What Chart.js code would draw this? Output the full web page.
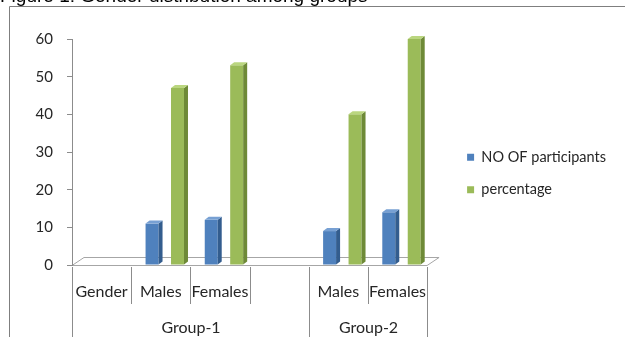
<!DOCTYPE html>
<html>
<head>
<meta charset="utf-8">
<script src="https://cdn.jsdelivr.net/npm/chart.js@4.4.0/dist/chart.umd.min.js"></script>
<style>
  html, body { margin: 0; padding: 0; background: #fff; }
  #wrap { position: relative; width: 625px; height: 337px; overflow: hidden; }
  #fig { position: absolute; left: 0; top: -14px; z-index: 2; font: 19px "Liberation Sans", Arial, sans-serif; line-height: 19px; color: #000; white-space: nowrap; }
  canvas { position: absolute; left: 0; top: 0; }
</style>
</head>
<body>
<div id="wrap">
  <div id="fig">Figure 1: Gender distribution among groups</div>
  <canvas id="genderChart" width="625" height="337"></canvas>
</div>
<script>
// Data
const categories = ['Gender', 'Males', 'Females', '', 'Males', 'Females'];
const groups = ['Group-1', 'Group-2'];
const groupSpans = [4, 2]; // how many categories sit under each group
const participants = [null, 11, 12, null, 9, 14];
const percentage = [null, 47, 53, null, 40, 60];

const LINE = '#8c8c8c';
const TEXT = '#262626';
const DX = 4, DY = 3; // bar depth

// horizontal shading like the Office 2007 bars
function shaded(light, mid, dark) {
  return ctx => {
    const bar = ctx.element;
    const chart = ctx.chart;
    if (!bar || !chart.chartArea) return mid;
    const {x, width} = bar.getProps(['x', 'width'], true);
    if (!isFinite(x) || !width) return mid;
    const g = chart.ctx.createLinearGradient(x - width / 2, 0, x + width / 2, 0);
    g.addColorStop(0, light);
    g.addColorStop(0.45, mid);
    g.addColorStop(1, dark);
    return g;
  };
}

// fake the Excel 3D look: frame, floor, bar sides and the two-level category axis
const excel3d = {
  id: 'excel3d',
  beforeDraw(chart) {
    const {ctx, chartArea: a} = chart;
    ctx.save();
    ctx.strokeStyle = '#7f7f7f';
    ctx.lineWidth = 1;
    ctx.beginPath();
    ctx.moveTo(chart.width, 6.5);
    ctx.lineTo(9.5, 6.5);
    ctx.lineTo(9.5, chart.height);
    ctx.stroke();

    ctx.strokeStyle = '#a6a6a6';
    ctx.fillStyle = '#fff';
    ctx.beginPath();
    ctx.moveTo(a.left, a.bottom + 0.5);
    ctx.lineTo(a.right, a.bottom + 0.5);
    ctx.lineTo(a.right + 12, a.bottom - 7.5);
    ctx.lineTo(a.left + 12, a.bottom - 7.5);
    ctx.closePath();
    ctx.fill();
    ctx.stroke();
    ctx.restore();
  },
  beforeDatasetsDraw(chart) {
    chart.ctx.save();
    chart.ctx.translate(DX, 0);
  },
  afterDatasetsDraw(chart) {
    const ctx = chart.ctx;
    chart.data.datasets.forEach((ds, i) => {
      chart.getDatasetMeta(i).data.forEach((bar, j) => {
        if (ds.data[j] == null) return;
        const {x, y, base, width} = bar.getProps(['x', 'y', 'base', 'width'], true);
        const l = x - width / 2, r = x + width / 2;
        ctx.fillStyle = ds.sideColor;
        ctx.beginPath();
        ctx.moveTo(r, y);
        ctx.lineTo(r + DX, y - DY);
        ctx.lineTo(r + DX, base - DY);
        ctx.lineTo(r, base);
        ctx.closePath();
        ctx.fill();
        ctx.fillStyle = ds.topColor;
        ctx.beginPath();
        ctx.moveTo(l, y);
        ctx.lineTo(l + DX, y - DY);
        ctx.lineTo(r + DX, y - DY);
        ctx.lineTo(r, y);
        ctx.closePath();
        ctx.fill();
      });
    });
    ctx.restore();
  },
  afterDraw(chart) {
    const {ctx, chartArea: a, scales: {x}} = chart;
    const edge = v => Math.round(x.getPixelForValue(0) + (v - 0.5) * (x.getPixelForValue(1) - x.getPixelForValue(0))) + 0.5;
    const groupEdges = [0];
    groupSpans.forEach(n => groupEdges.push(groupEdges[groupEdges.length - 1] + n));
    ctx.save();
    ctx.strokeStyle = LINE;
    ctx.lineWidth = 1;
    for (let i = 0; i <= categories.length; i++) {
      const px = edge(i);
      ctx.beginPath();
      ctx.moveTo(px, a.bottom + 2);
      ctx.lineTo(px, groupEdges.includes(i) ? chart.height : a.bottom + 39);
      ctx.stroke();
    }
    ctx.fillStyle = TEXT;
    ctx.font = '16px Lato';
    ctx.textAlign = 'center';
    ctx.textBaseline = 'alphabetic';
    groups.forEach((g, k) => {
      ctx.fillText(g, (edge(groupEdges[k]) + edge(groupEdges[k + 1])) / 2, a.bottom + 68);
    });
    ctx.restore();
  }
};

new Chart(document.getElementById('genderChart'), {
  type: 'bar',
  data: {
    labels: categories,
    datasets: [{
      label: 'NO OF participants',
      data: participants,
      backgroundColor: shaded('#6d9ad3', '#4f81bd', '#3f6da6'),
      sideColor: '#335d8e',
      topColor: '#77a0d3'
    }, {
      label: 'percentage',
      data: percentage,
      backgroundColor: shaded('#b0cf73', '#9bbb59', '#86a646'),
      sideColor: '#6e8a37',
      topColor: '#bad67f'
    }]
  },
  options: {
    responsive: false,
    animation: false,
    categoryPercentage: 0.86,
    barPercentage: 0.51,
    layout: { padding: { top: 39, bottom: 29, left: 0, right: 9 } },
    plugins: {
      legend: {
        position: 'right',
        maxWidth: 220,
        labels: {
          boxWidth: 7,
          boxHeight: 7,
          padding: 18,
          color: TEXT,
          font: { family: 'Lato', size: 14.5 },
          generateLabels: chart => chart.data.datasets.map((ds, i) => ({
            text: ds.label,
            fillStyle: i === 0 ? '#4f81bd' : '#9bbb59',
            strokeStyle: 'transparent',
            lineWidth: 0,
            hidden: false,
            datasetIndex: i,
            fontColor: TEXT
          }))
        }
      },
      tooltip: { enabled: false }
    },
    scales: {
      x: {
        grid: { display: false, drawTicks: false },
        border: { display: false },
        ticks: { color: TEXT, font: { family: 'Lato', size: 16 }, padding: 17, maxRotation: 0, autoSkip: false },
        afterFit: s => { s.height = 43; }
      },
      y: {
        min: 0,
        max: 60,
        ticks: { stepSize: 10, color: TEXT, font: { family: 'Lato', size: 15 }, padding: 14 },
        grid: { drawOnChartArea: false, tickLength: 5, color: LINE },
        border: { color: LINE },
        afterFit: s => { s.width = 72; }
      },
      gap: {
        type: 'linear',
        position: 'right',
        grid: { display: false, drawTicks: false },
        border: { display: false },
        ticks: { display: false },
        afterFit: s => { s.width = 22; }
      }
    }
  },
  plugins: [excel3d]
});
</script>
</body>
</html>
